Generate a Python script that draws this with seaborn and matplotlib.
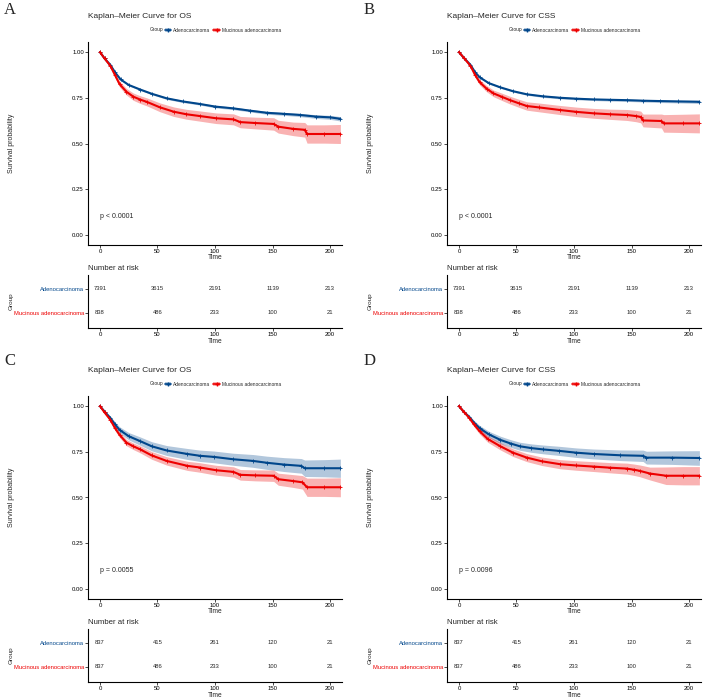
import numpy as np
import seaborn as sns
import matplotlib.pyplot as plt
from matplotlib.patches import Patch
from matplotlib.lines import Line2D

# Data (time, survival, CI half width)
# Panel A: OS, full cohort
a_ade_t = [0, 4, 9, 13, 18, 25, 35, 45, 58, 72, 87, 100, 116, 130, 145, 160, 174, 188, 200, 209]
a_ade_s = [1.0, 0.965, 0.93, 0.89, 0.85, 0.82, 0.795, 0.772, 0.747, 0.73, 0.716, 0.702, 0.692, 0.68, 0.668, 0.662, 0.656, 0.647, 0.643, 0.635]
a_ade_ci = [0, 0.003, 0.004, 0.005, 0.005, 0.005, 0.005, 0.005, 0.006, 0.006, 0.006, 0.007, 0.007, 0.007, 0.008, 0.008, 0.009, 0.01, 0.011, 0.012]
a_muc_t = [0, 4, 9, 13, 17, 23, 29, 35, 41, 52, 64, 75, 87, 101, 116, 122, 135, 151, 155, 168, 178, 180, 195, 209]
a_muc_s = [1.0, 0.965, 0.925, 0.875, 0.825, 0.783, 0.756, 0.74, 0.727, 0.698, 0.674, 0.66, 0.65, 0.638, 0.632, 0.617, 0.612, 0.607, 0.592, 0.58, 0.575, 0.552, 0.552, 0.552]
a_muc_ci = [0, 0.006, 0.01, 0.014, 0.016, 0.018, 0.02, 0.021, 0.022, 0.024, 0.026, 0.027, 0.028, 0.029, 0.03, 0.031, 0.032, 0.034, 0.035, 0.037, 0.04, 0.05, 0.05, 0.052]

# Panel B: CSS, full cohort
b_ade_t = [0, 4, 10, 14, 18, 26, 36, 47, 59, 73, 88, 102, 117, 131, 146, 160, 175, 190, 209]
b_ade_s = [1.0, 0.97, 0.93, 0.89, 0.862, 0.83, 0.807, 0.786, 0.769, 0.758, 0.75, 0.745, 0.741, 0.739, 0.737, 0.734, 0.732, 0.73, 0.728]
b_ade_ci = [0, 0.003, 0.004, 0.004, 0.005, 0.005, 0.005, 0.005, 0.005, 0.006, 0.006, 0.006, 0.006, 0.007, 0.007, 0.007, 0.008, 0.008, 0.009]
b_muc_t = [0, 4, 10, 14, 18, 24, 30, 37, 44, 52, 59, 70, 88, 102, 117, 131, 146, 154, 158, 160, 176, 178, 195, 209]
b_muc_s = [1.0, 0.97, 0.925, 0.875, 0.835, 0.8, 0.774, 0.756, 0.738, 0.72, 0.705, 0.697, 0.683, 0.673, 0.665, 0.66, 0.656, 0.65, 0.645, 0.626, 0.623, 0.61, 0.61, 0.61]
b_muc_ci = [0, 0.006, 0.01, 0.013, 0.015, 0.017, 0.018, 0.02, 0.021, 0.022, 0.023, 0.024, 0.025, 0.026, 0.027, 0.028, 0.03, 0.031, 0.032, 0.035, 0.038, 0.048, 0.05, 0.052]

# Panel C: OS, matched cohort
c_ade_t = [0, 4, 9, 13, 17, 25, 35, 45, 58, 76, 87, 99, 116, 133, 145, 160, 175, 178, 195, 209]
c_ade_s = [1.0, 0.97, 0.935, 0.9, 0.87, 0.835, 0.808, 0.78, 0.757, 0.738, 0.728, 0.722, 0.709, 0.7, 0.69, 0.68, 0.673, 0.66, 0.66, 0.66]
c_ade_ci = [0, 0.005, 0.01, 0.014, 0.017, 0.02, 0.023, 0.025, 0.027, 0.03, 0.031, 0.032, 0.033, 0.035, 0.036, 0.038, 0.04, 0.045, 0.047, 0.05]
c_muc_t = [0, 4, 9, 13, 17, 23, 29, 35, 45, 58, 76, 87, 101, 116, 122, 135, 151, 155, 168, 176, 180, 195, 209]
c_muc_s = [1.0, 0.965, 0.925, 0.88, 0.843, 0.8, 0.78, 0.763, 0.73, 0.70, 0.673, 0.664, 0.649, 0.64, 0.624, 0.621, 0.619, 0.60, 0.59, 0.583, 0.556, 0.556, 0.556]
c_muc_ci = [0, 0.006, 0.01, 0.013, 0.015, 0.017, 0.018, 0.019, 0.021, 0.023, 0.025, 0.026, 0.027, 0.028, 0.029, 0.03, 0.031, 0.033, 0.035, 0.037, 0.05, 0.05, 0.052]

# Panel D: CSS, matched cohort
d_ade_t = [0, 4, 9, 13, 18, 26, 36, 45, 53, 63, 73, 87, 102, 117, 140, 160, 163, 185, 209]
d_ade_s = [1.0, 0.97, 0.94, 0.91, 0.879, 0.845, 0.815, 0.795, 0.78, 0.77, 0.763, 0.755, 0.745, 0.738, 0.731, 0.728, 0.718, 0.718, 0.716]
d_ade_ci = [0, 0.005, 0.009, 0.012, 0.015, 0.017, 0.02, 0.021, 0.022, 0.023, 0.024, 0.025, 0.026, 0.027, 0.029, 0.031, 0.035, 0.037, 0.04]
d_muc_t = [0, 4, 9, 13, 18, 25, 36, 47, 59, 72, 88, 102, 117, 131, 146, 152, 157, 166, 180, 195, 209]
d_muc_s = [1.0, 0.97, 0.935, 0.9, 0.862, 0.82, 0.78, 0.745, 0.718, 0.698, 0.682, 0.675, 0.669, 0.663, 0.658, 0.652, 0.646, 0.631, 0.619, 0.619, 0.619]
d_muc_ci = [0, 0.006, 0.01, 0.013, 0.016, 0.018, 0.02, 0.021, 0.022, 0.023, 0.025, 0.026, 0.027, 0.028, 0.03, 0.031, 0.032, 0.035, 0.048, 0.05, 0.05]

# Number at risk tables
risk_times = [0, 50, 100, 150, 200]
risk_full_ade = [7391, 3615, 2191, 1139, 213]
risk_full_muc = [838, 486, 233, 100, 21]
risk_psm_ade = [837, 415, 261, 120, 21]
risk_psm_muc = [837, 486, 233, 100, 21]

groups = ['Adenocarcinoma', 'Mucinous adenocarcinoma']
titles = ['Kaplan\u2013Meier Curve for OS', 'Kaplan\u2013Meier Curve for CSS',
          'Kaplan\u2013Meier Curve for OS', 'Kaplan\u2013Meier Curve for CSS']
pvals = ['p < 0.0001', 'p < 0.0001', 'p = 0.0055', 'p = 0.0096']
letters = ['A', 'B', 'C', 'D']

BLUE = '#00468B'
RED = '#ED0000'

sns.set_theme(style='ticks')
plt.rcParams['font.family'] = ['Liberation Sans', 'DejaVu Sans']

W, H = 709, 698
fig = plt.figure(figsize=(W / 100, H / 100), dpi=100)


def rect(l, t, r, b):
    return [l / W, 1 - b / H, (r - l) / W, (b - t) / H]


def style_axis(ax):
    for s in ['top', 'right']:
        ax.spines[s].set_visible(False)
    for s in ['left', 'bottom']:
        ax.spines[s].set_linewidth(0.8)
        ax.spines[s].set_color('black')
    ax.tick_params(length=2, width=0.5, labelsize=4.3, pad=1, colors='black')


curves = [
    [(a_ade_t, a_ade_s, a_ade_ci), (a_muc_t, a_muc_s, a_muc_ci)],
    [(b_ade_t, b_ade_s, b_ade_ci), (b_muc_t, b_muc_s, b_muc_ci)],
    [(c_ade_t, c_ade_s, c_ade_ci), (c_muc_t, c_muc_s, c_muc_ci)],
    [(d_ade_t, d_ade_s, d_ade_ci), (d_muc_t, d_muc_s, d_muc_ci)],
]
risks = [
    (risk_full_ade, risk_full_muc), (risk_full_ade, risk_full_muc),
    (risk_psm_ade, risk_psm_muc), (risk_psm_ade, risk_psm_muc),
]

for i in range(4):
    dx = 359 * (i % 2)
    dy = 354 * (i // 2)

    # panel letter
    fig.text((4 + dx + (1 if i % 2 else 0)) / W, 1 - (10 + dy - (3 if i >= 2 else 0)) / H, letters[i],
             family='Liberation Serif', fontsize=12, ha='left', va='center')

    # survival curves
    ax = fig.add_axes(rect(88 + dx, 42 + dy, 342 + dx, 245 + dy))
    for (t, s, ci), col in zip(curves[i], [BLUE, RED]):
        t = np.array(t)
        s = np.array(s)
        ci = np.array(ci)
        ax.fill_between(t, s - ci, s + ci, color=col, alpha=0.3, lw=0)
        sns.lineplot(x=t, y=s, color=col, lw=1.5, marker='+', markersize=3,
                     markeredgewidth=0.6, markeredgecolor=col, ax=ax, legend=False)
    ax.set_xlim(-10.4, 210.4)
    ax.set_ylim(-0.055, 1.055)
    ax.set_xticks([0, 50, 100, 150, 200])
    ax.set_yticks([0, 0.25, 0.5, 0.75, 1.0])
    ax.set_yticklabels(['0.00', '0.25', '0.50', '0.75', '1.00'])
    style_axis(ax)
    ax.set_xlabel('Time', fontsize=4.8, labelpad=0)
    ax.xaxis.set_label_coords(0.5, -0.046)
    ax.set_ylabel('Survival probability', fontsize=5)
    ax.yaxis.set_label_coords(-0.287, 0.5)
    ax.text(0, 0.1, pvals[i], fontsize=5, ha='left', va='center')
    ax.text(0, 1 + 26 / 203, titles[i], fontsize=6, ha='left', va='center',
            transform=ax.transAxes)

    # legend
    handles = [(Patch(facecolor=c, alpha=0.3, lw=0),
                Line2D([], [], color=c, lw=1.2, marker='+', markersize=3))
               for c in [BLUE, RED]]
    fig.legend(handles, groups, loc='center', ncol=2, frameon=False,
               bbox_to_anchor=((223 + dx) / W, 1 - (30 + dy) / H),
               fontsize=3.5, handlelength=1.3, handleheight=0.9,
               handletextpad=0.4, columnspacing=0.6, borderpad=0)
    fig.text((163 + dx) / W, 1 - (30 + dy) / H, 'Group', fontsize=3.5,
             ha='right', va='center')

    # number at risk table
    rax = fig.add_axes(rect(88 + dx, 275 + dy, 342 + dx, 328 + dy))
    for n_list, row in zip(risks[i], [2, 1]):
        for tt, n in zip(risk_times, n_list):
            rax.text(tt, row, str(n), fontsize=4.2, ha='center', va='center')
    rax.set_xlim(-10.4, 210.4)
    rax.set_ylim(0.375, 2.583)
    rax.set_xticks([0, 50, 100, 150, 200])
    rax.set_yticks([2, 1])
    rax.set_yticklabels(groups)
    style_axis(rax)
    for lab, col in zip(rax.get_yticklabels(), [BLUE, RED]):
        lab.set_color(col)
        lab.set_fontsize(4.2)
    rax.set_xlabel('Time', fontsize=4.8, labelpad=0)
    rax.xaxis.set_label_coords(0.5, -0.18)
    rax.set_ylabel('Group', fontsize=4.6)
    rax.yaxis.set_label_coords(-0.291, 0.5)
    rax.text(0, 1 + 7 / 53, 'Number at risk', fontsize=5.6, ha='left',
             va='center', transform=rax.transAxes)

fig.savefig('out.png', dpi=100)
